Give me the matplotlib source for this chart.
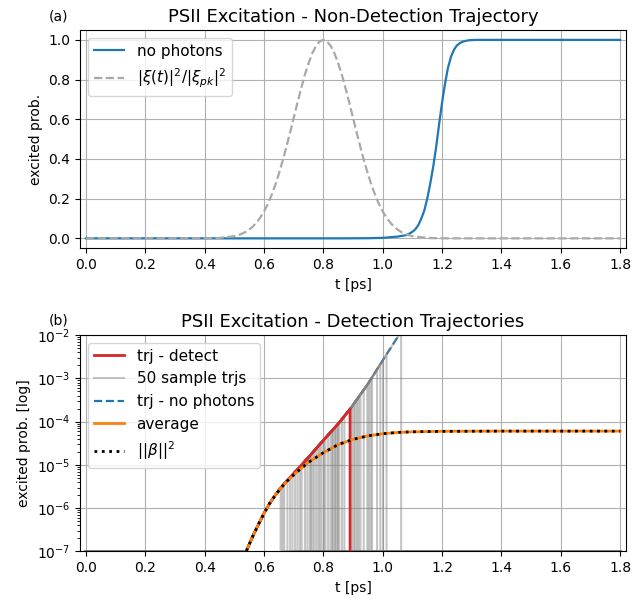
import numpy as np
import matplotlib
matplotlib.use("Agg")
import matplotlib.pyplot as plt
from matplotlib.ticker import MultipleLocator

# no-photon (non-detection) trajectory, excited probability
t_np = [0.0, 0.2, 0.3, 0.4, 0.45, 0.5, 0.54, 0.56, 0.58, 0.6, 0.62, 0.64, 0.66,
        0.68, 0.7, 0.72, 0.75, 0.8, 0.85, 0.89, 0.95, 1.0, 1.05, 1.08, 1.09,
        1.1, 1.11, 1.12, 1.13, 1.14, 1.15, 1.16, 1.17, 1.18, 1.19, 1.2, 1.21,
        1.22, 1.23, 1.24, 1.25, 1.26, 1.27, 1.28, 1.29, 1.3, 1.32, 1.4, 1.6, 1.8]
p_np = [1e-20, 1e-16, 1e-13, 3e-11, 1e-9, 1.6e-8, 1.0e-7, 2.09e-7, 4.07e-7,
        7.6e-7, 1.32e-6, 2.09e-6, 3.16e-6, 4.47e-6, 6.3e-6, 8.9e-6, 1.5e-5,
        3.7e-5, 8.9e-5, 1.95e-4, 7.4e-4, 2.6e-3, 8.9e-3, 0.016, 0.024, 0.033,
        0.046, 0.067, 0.10, 0.14, 0.20, 0.275, 0.36, 0.46, 0.575, 0.685, 0.78,
        0.86, 0.915, 0.95, 0.972, 0.984, 0.991, 0.995, 0.998, 0.999, 1.0, 1.0,
        1.0, 1.0]

# normalised pulse |xi(t)|^2 / |xi_pk|^2
t_pulse = [0.0, 0.3, 0.4, 0.45, 0.5, 0.5125, 0.525, 0.5375, 0.55, 0.5625, 0.575,
           0.5875, 0.6, 0.6125, 0.625, 0.6375, 0.65, 0.6625, 0.675, 0.6875,
           0.7, 0.7125, 0.725, 0.7375, 0.75, 0.7625, 0.775, 0.7875, 0.8,
           0.8125, 0.825, 0.8375, 0.85, 0.8625, 0.875, 0.8875, 0.9, 0.9125,
           0.925, 0.9375, 0.95, 0.9625, 0.975, 0.9875, 1.0, 1.0125, 1.025,
           1.0375, 1.05, 1.0625, 1.075, 1.0875, 1.1, 1.15, 1.2, 1.3, 1.8]
pulse = [0.0, 0.0, 0.0003, 0.0022, 0.011, 0.016, 0.023, 0.032, 0.044, 0.060,
         0.080, 0.105, 0.135, 0.172, 0.216, 0.267, 0.325, 0.389, 0.458, 0.531,
         0.607, 0.682, 0.755, 0.823, 0.882, 0.932, 0.969, 0.992, 1.0,
         0.992, 0.969, 0.932, 0.882, 0.823, 0.755, 0.682, 0.607, 0.531,
         0.458, 0.389, 0.325, 0.267, 0.216, 0.172, 0.135, 0.105, 0.080,
         0.060, 0.044, 0.032, 0.023, 0.016, 0.011, 0.0022, 0.0003, 0.0, 0.0]

# average over trajectories / ||beta||^2
t_avg = [0.45, 0.5, 0.54, 0.56, 0.58, 0.6, 0.62, 0.64, 0.66, 0.68, 0.7, 0.72,
         0.75, 0.8, 0.85, 0.9, 0.95, 1.0, 1.05, 1.1, 1.2, 1.4, 1.8]
p_avg = [1e-9, 1.5e-8, 1.0e-7, 2.09e-7, 4.07e-7, 7.6e-7, 1.32e-6, 2.09e-6,
         3.09e-6, 4.37e-6, 5.89e-6, 7.76e-6, 1.15e-5, 1.91e-5, 2.95e-5,
         3.89e-5, 4.68e-5, 5.25e-5, 5.62e-5, 5.82e-5, 5.96e-5, 6.03e-5, 6.03e-5]

# photon detection times of the sample trajectories
t_detect = [0.656, 0.662, 0.668, 0.679, 0.688, 0.696, 0.705, 0.713, 0.721,
            0.727, 0.738, 0.746, 0.754, 0.758, 0.763, 0.769, 0.776, 0.783,
            0.788, 0.794, 0.802, 0.807, 0.816, 0.824, 0.830, 0.832, 0.839,
            0.841, 0.847, 0.849, 0.854, 0.863, 0.871, 0.897, 0.903, 0.908,
            0.914, 0.919, 0.925, 0.936, 0.948, 0.953, 0.959, 0.964, 0.981,
            0.992, 1.001, 1.013, 1.062]
t_red = 0.89

FLOOR = 1e-7
T_END = 1.8


def trajectory(td, floor_after=True):
    t = np.array(t_np)
    p = np.array(p_np)
    keep = t < td
    p_td = 10 ** np.interp(td, t, np.log10(p))
    if floor_after:
        tt = np.concatenate([t[keep], [td, td, T_END]])
        pp = np.concatenate([p[keep], [p_td, FLOOR, FLOOR]])
        return tt, np.maximum(pp, FLOOR)
    tt = np.concatenate([t[keep], [td, td]])
    pp = np.concatenate([p[keep], [p_td, 1e-12]])
    return tt, pp


fig = plt.figure(figsize=(6.44, 5.99), dpi=100)
ax1 = fig.add_axes([0.1242, 0.5855, 0.848, 0.3645])
ax2 = fig.add_axes([0.1242, 0.0793, 0.848, 0.3614])

# (a)
ax1.plot(t_np, p_np, color='tab:blue', lw=1.6, label='no photons')
ax1.plot(t_pulse, pulse, color='darkgray', ls='--', lw=1.6,
         label=r'$|\xi(t)|^2/|\xi_{pk}|^2$')
ax1.set_xlim(-0.02, 1.82)
ax1.set_ylim(-0.05, 1.05)
ax1.xaxis.set_major_locator(MultipleLocator(0.2))
ax1.grid(True)
ax1.set_xlabel('t [ps]')
ax1.set_ylabel('excited prob.')
ax1.set_title('PSII Excitation - Non-Detection Trajectory', fontsize=13)
ax1.legend(loc='upper left', fontsize=11)
ax1.text(-0.057, 1.045, '(a)', transform=ax1.transAxes, fontsize=10)

# (b)
ax2.set_yscale('log')
h_np, = ax2.plot(t_np, p_np, color='tab:blue', ls='--', lw=1.6, zorder=2.0,
                 label='trj - no photons')
h_gray = None
for td in t_detect:
    tt, pp = trajectory(td)
    h_gray, = ax2.plot(tt, pp, color='gray', alpha=0.45, lw=1.5, zorder=2.1,
                       label='50 sample trjs')
tt, pp = trajectory(t_red, floor_after=False)
h_red, = ax2.plot(tt, pp, color='tab:red', lw=2, zorder=2.2, label='trj - detect')
h_avg, = ax2.plot(t_avg, p_avg, color='tab:orange', lw=2, zorder=2.3, label='average')
h_beta, = ax2.plot(t_avg, p_avg, color='black', ls=':', lw=2, zorder=2.4,
                   label=r'$||\beta||^2$')
ax2.set_xlim(-0.02, 1.82)
ax2.set_ylim(FLOOR, 1e-2)
ax2.xaxis.set_major_locator(MultipleLocator(0.2))
ax2.grid(True)
ax2.set_xlabel('t [ps]')
ax2.set_ylabel('excited prob. [log]')
ax2.set_title('PSII Excitation - Detection Trajectories', fontsize=13)
ax2.legend(handles=[h_red, h_gray, h_np, h_avg, h_beta], loc='upper left', fontsize=11)
ax2.text(-0.057, 1.05, '(b)', transform=ax2.transAxes, fontsize=10)

fig.savefig('out.png', dpi=100)
